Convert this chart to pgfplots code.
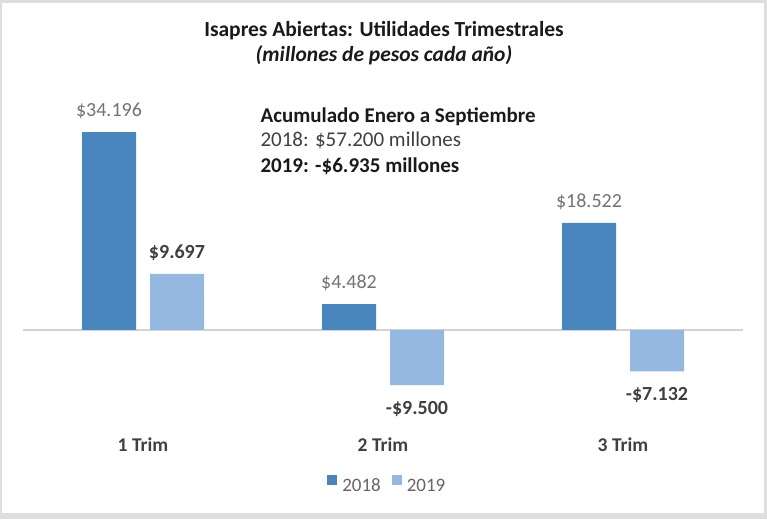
\documentclass[border=0pt]{standalone}
\usepackage{pgfplots}
\usepackage{pgfplotstable}
\pgfplotsset{compat=1.18}
\usepackage{fontspec}
\setmainfont{Carlito}
\definecolor{cA}{HTML}{4A86BE}
\definecolor{cB}{HTML}{95B8E1}
\definecolor{framegray}{HTML}{DEDEDE}
\definecolor{zerogray}{HTML}{D4D4D4}
\definecolor{valgray}{HTML}{737373}
\definecolor{dark}{HTML}{404040}
\definecolor{leggray}{HTML}{666666}
\definecolor{titleblack}{HTML}{1A1A1A}

\pgfplotstableread{
x y lab sh
0 34196 {\$34.196} 0
1 4482 {\$4.482} 0
2 18522 {\$18.522} 0
}\tA
\pgfplotstableread{
x y lab sh
0 9697 {\$9.697} 0
1 -9500 {-\$9.500} -45
2 -7132 {-\$7.132} -45
}\tB

\begin{document}
\begin{tikzpicture}[x=1pt,y=1pt]
\useasboundingbox (0,0) rectangle (767,519);
\fill[framegray] (0,0) rectangle (767,519);
\fill[white] (2,6) rectangle (764,516);

\node[anchor=base, font=\fontsize{21.5}{25}\selectfont\bfseries, text=titleblack] at (384,482) {Isapres Abiertas: Utilidades Trimestrales};
\node[anchor=base, font=\fontsize{21.5}{25}\selectfont\bfseries\itshape, text=titleblack] at (384,457) {(millones de pesos cada año)};

\begin{axis}[
  at={(23pt,102.15pt)}, anchor=south west,
  scale only axis, width=720pt, height=318.45pt,
  xmin=-0.5, xmax=2.5, ymin=-15000, ymax=40000,
  axis line style={draw=none}, tick style={draw=none},
  ytick=\empty, xtick={0,1,2}, xticklabels={1 Trim,2 Trim,3 Trim},
  xticklabel style={font=\fontsize{19.5}{22}\selectfont\bfseries, text=dark, anchor=base, inner sep=0pt, yshift=-30pt},
  ybar, bar width=54pt,
  clip=false,
  point meta=explicit symbolic,
  nodes near coords,
  visualization depends on={\thisrow{sh} \as \sh},
  every node near coord/.append style={inner xsep=0pt, inner ysep=13pt, anchor=south, yshift=\sh pt},
  legend style={at={(0.506,-0.214)}, anchor=center, draw=none, fill=none,
    legend columns=-1, font=\fontsize{19}{22}\selectfont, text=leggray,
    /tikz/every odd column/.append style={column sep=3pt},
    /tikz/every even column/.append style={column sep=9pt}},
  legend image code/.code={\fill[#1] (0pt,0.5pt) rectangle (10pt,10.5pt);},
]
\draw[zerogray, line width=1.6pt] (axis cs:-0.5,0) -- (axis cs:2.5,0);
\addplot[fill=cA, draw=none, bar shift=-34pt,
  nodes near coords style={font=\fontsize{20}{24}\selectfont, text=valgray}]
  table[x=x, y=y, meta=lab] {\tA};
\addplot[fill=cB, draw=none, bar shift=34pt,
  nodes near coords style={font=\fontsize{20}{24}\selectfont\bfseries, text=dark}]
  table[x=x, y=y, meta=lab] {\tB};
\legend{2018,2019}
\end{axis}

\node[anchor=base west, font=\fontsize{21}{25}\selectfont\bfseries, text=titleblack] at (257,396) {Acumulado Enero a Septiembre};
\node[anchor=base west, font=\fontsize{21}{25}\selectfont, text=dark] at (257,372) {2018: \$57.200 millones};
\node[anchor=base west, font=\fontsize{21}{25}\selectfont\bfseries, text=titleblack] at (257,346) {2019: -\$6.935 millones};
\end{tikzpicture}
\end{document}
